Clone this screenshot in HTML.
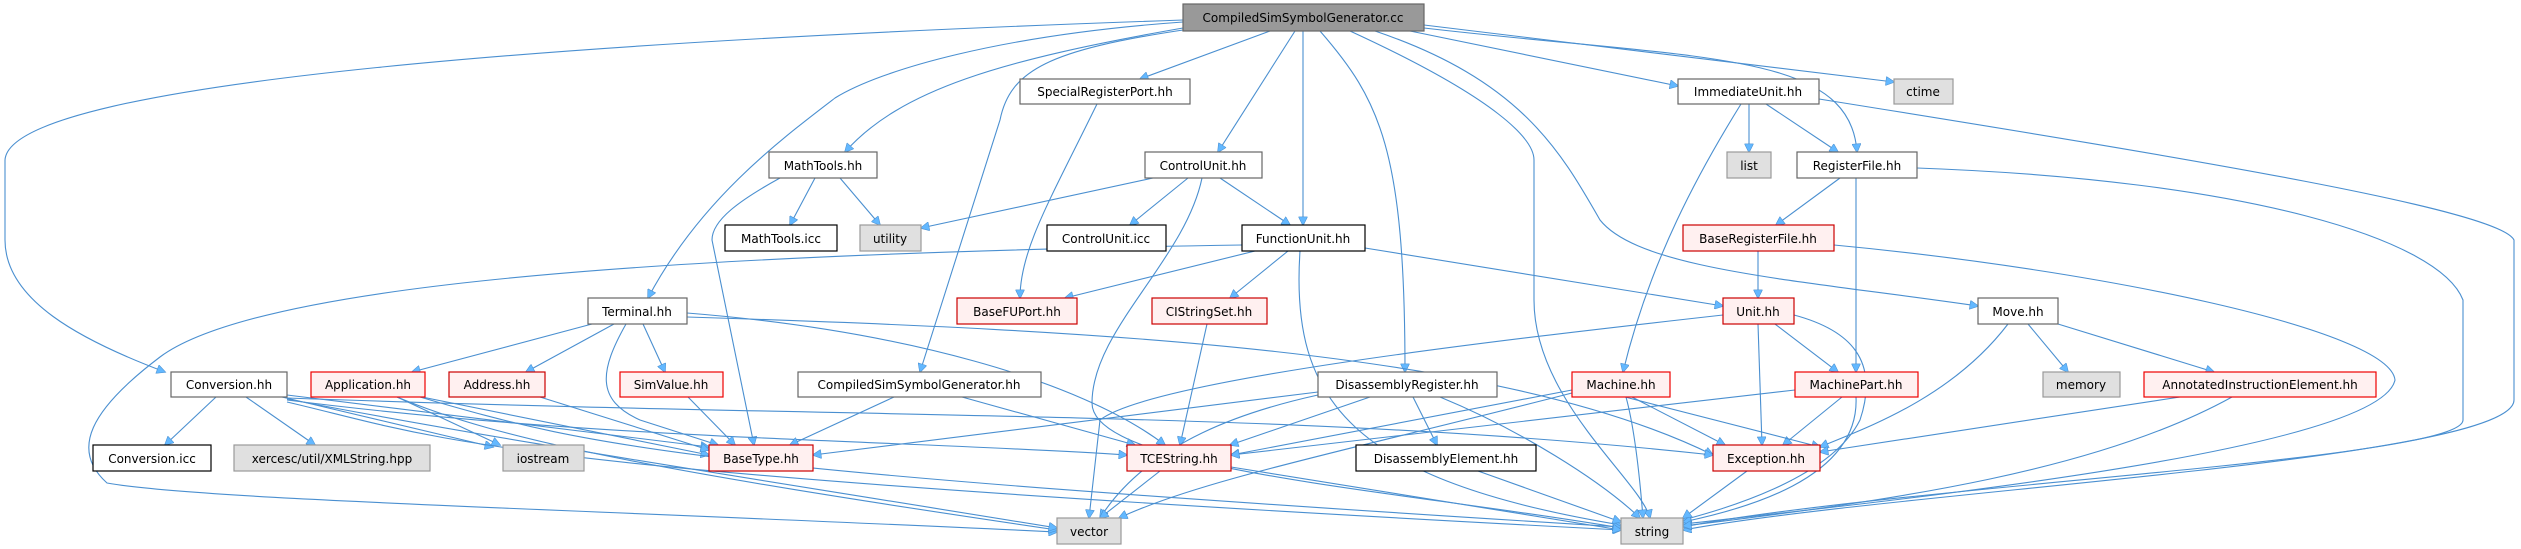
<!DOCTYPE html>
<html><head><meta charset="utf-8"><style>
html,body{margin:0;padding:0;background:#fff;}
svg{display:block;}
text{font-family:"DejaVu Sans","Liberation Sans",sans-serif;font-size:12px;fill:#000;}
.e{fill:none;stroke:#4a8fd0;stroke-width:1.1;}
</style></head><body>
<svg width="2521" height="549" viewBox="0 0 2521 549" xmlns="http://www.w3.org/2000/svg">
<defs><marker id="a" viewBox="0 0 10 10" refX="9" refY="5" markerWidth="11" markerHeight="9" markerUnits="userSpaceOnUse" orient="auto"><path d="M0,0 L10,5 L0,10 z" fill="#63b8ff" stroke="#4a8fd0" stroke-width="0.6"/></marker></defs>
<g class="e" marker-end="url(#a)">
<path d="M1183,20 C600,40 10,80 5,160 L5,240 C5,300 80,340 165,372"/>
<path d="M1242,245 C600,255 250,290 160,357 C90,410 70,450 107,483 C200,500 600,510 1057,532"/>
<path d="M1183,28 C1000,60 900,90 845,152"/>
<path d="M1183,22 C1000,35 880,70 835,98 C780,140 700,200 648,298"/>
<path d="M1270,31 L1140,79"/>
<path d="M1295,31 L1218,152"/>
<path d="M1303,31 L1303,225"/>
<path d="M1183,30 C1050,50 1010,70 1000,120 L920,372"/>
<path d="M1320,31 C1380,100 1405,150 1405,372"/>
<path d="M1350,31 C1500,100 1534,140 1534,160 L1534,300 C1534,400 1640,480 1650,518"/>
<path d="M1375,31 C1520,80 1560,150 1600,220 C1640,270 1800,280 1978,306"/>
<path d="M1410,31 L1678,86"/>
<path d="M1424,28 C1700,60 1850,50 1857,152"/>
<path d="M1424,25 L1894,82"/>
<path d="M1097,104 C1050,200 1020,250 1020,298"/>
<path d="M1153,178 L921,228"/>
<path d="M1188,178 L1130,225"/>
<path d="M1220,178 L1290,225"/>
<path d="M1202,178 C1185,260 1092,330 1092,403 C1092,470 1400,490 1621,528"/>
<path d="M840,178 L880,225"/>
<path d="M815,178 L790,225"/>
<path d="M780,178 C740,200 712,220 712,240 L754,445"/>
<path d="M1255,251 L1065,298"/>
<path d="M1288,251 L1230,298"/>
<path d="M1365,248 L1723,306"/>
<path d="M1300,251 C1290,400 1350,480 1621,525"/>
<path d="M1207,324 L1180,445"/>
<path d="M592,324 L412,372"/>
<path d="M614,324 L526,372"/>
<path d="M643,324 L665,372"/>
<path d="M626,324 C600,370 595,400 640,420 L718,445"/>
<path d="M687,313 C900,330 1080,380 1165,445"/>
<path d="M687,317 C1100,330 1500,350 1713,455"/>
<path d="M397,397 L500,445"/>
<path d="M422,397 L709,455"/>
<path d="M420,397 C600,450 700,470 1621,527"/>
<path d="M397,397 C500,440 650,470 1057,530"/>
<path d="M216,397 L165,445"/>
<path d="M246,397 L315,445"/>
<path d="M282,397 L493,447"/>
<path d="M287,395 L709,447"/>
<path d="M287,399 C500,440 700,470 1057,528"/>
<path d="M287,400 C600,440 900,440 1127,455"/>
<path d="M287,398 C900,420 1300,410 1713,455"/>
<path d="M287,402 C450,440 470,470 1621,530"/>
<path d="M540,397 L709,450"/>
<path d="M688,397 L735,445"/>
<path d="M894,397 L790,445"/>
<path d="M962,397 L1135,445"/>
<path d="M1370,397 L1230,445"/>
<path d="M1318,392 L813,455"/>
<path d="M1413,397 L1437,445"/>
<path d="M1440,397 C1520,430 1600,480 1640,518"/>
<path d="M1318,395 C1250,410 1150,440 1100,518"/>
<path d="M1572,390 L1231,455"/>
<path d="M1632,397 L1725,445"/>
<path d="M1626,397 C1635,430 1640,480 1643,518"/>
<path d="M1572,393 C1350,450 1200,480 1119,518"/>
<path d="M1478,471 L1621,522"/>
<path d="M1160,471 L1100,518"/>
<path d="M1231,467 L1621,530"/>
<path d="M1749,104 L1749,152"/>
<path d="M1766,104 L1838,152"/>
<path d="M1741,104 C1700,170 1650,260 1623,372"/>
<path d="M1819,99 C2200,160 2500,210 2514,240 L2514,400 C2514,460 1900,490 1683,530"/>
<path d="M1840,178 L1776,225"/>
<path d="M1856,178 L1856,372"/>
<path d="M1917,168 C2250,180 2440,240 2463,300 L2463,420 C2463,460 1900,485 1683,527"/>
<path d="M1758,251 L1758,298"/>
<path d="M1834,245 C2100,270 2390,330 2395,380 C2380,450 1900,500 1683,524"/>
<path d="M1775,324 L1838,372"/>
<path d="M1758,324 L1762,445"/>
<path d="M1794,315 C1850,330 1880,360 1860,420 C1830,480 1720,510 1683,520"/>
<path d="M1723,315 C1500,340 1150,380 1100,420 L1089,518"/>
<path d="M1842,397 L1783,445"/>
<path d="M1856,397 C1860,480 1740,510 1683,522"/>
<path d="M1795,390 L1231,455"/>
<path d="M2028,324 L2068,372"/>
<path d="M2058,324 L2214,372"/>
<path d="M2008,324 C1950,400 1860,430 1820,447"/>
<path d="M2180,397 L1820,452"/>
<path d="M2232,397 C2100,470 1900,500 1683,526"/>
<path d="M1747,471 L1683,518"/>
<path d="M1625,397 L1820,447"/>
</g>
<g stroke-width="1.2">
<rect x="1183" y="4" width="241" height="27" fill="#999" stroke="#666"/>
<rect x="1020" y="79" width="170" height="25" fill="#fff" stroke="#666"/>
<rect x="1678" y="79" width="141" height="25" fill="#fff" stroke="#666"/>
<rect x="1894" y="79" width="59" height="25" fill="#e0e0e0" stroke="#999"/>
<rect x="769" y="152" width="108" height="26" fill="#fff" stroke="#666"/>
<rect x="1145" y="152" width="117" height="26" fill="#fff" stroke="#666"/>
<rect x="1727" y="152" width="44" height="26" fill="#e0e0e0" stroke="#999"/>
<rect x="1797" y="152" width="120" height="26" fill="#fff" stroke="#666"/>
<rect x="725" y="225" width="112" height="26" fill="#fff" stroke="#000"/>
<rect x="860" y="225" width="61" height="26" fill="#e0e0e0" stroke="#999"/>
<rect x="1047" y="225" width="119" height="26" fill="#fff" stroke="#000"/>
<rect x="1242" y="225" width="123" height="26" fill="#fff" stroke="#000"/>
<rect x="1683" y="225" width="151" height="26" fill="#fff0f0" stroke="#c00"/>
<rect x="588" y="298" width="99" height="26" fill="#fff" stroke="#666"/>
<rect x="957" y="298" width="120" height="26" fill="#fff0f0" stroke="#c00"/>
<rect x="1152" y="298" width="115" height="26" fill="#fff0f0" stroke="#c00"/>
<rect x="1723" y="298" width="71" height="26" fill="#fff0f0" stroke="#c00"/>
<rect x="1978" y="298" width="80" height="26" fill="#fff" stroke="#666"/>
<rect x="171" y="372" width="116" height="25" fill="#fff" stroke="#666"/>
<rect x="311" y="372" width="114" height="25" fill="#fff0f0" stroke="#e00"/>
<rect x="449" y="372" width="96" height="25" fill="#fff0f0" stroke="#c00"/>
<rect x="620" y="372" width="103" height="25" fill="#fff0f0" stroke="#e00"/>
<rect x="798" y="372" width="243" height="25" fill="#fff" stroke="#666"/>
<rect x="1318" y="372" width="179" height="25" fill="#fff" stroke="#666"/>
<rect x="1572" y="372" width="98" height="25" fill="#fff0f0" stroke="#e00"/>
<rect x="1795" y="372" width="123" height="25" fill="#fff0f0" stroke="#e00"/>
<rect x="2043" y="372" width="77" height="25" fill="#e0e0e0" stroke="#999"/>
<rect x="2144" y="372" width="232" height="25" fill="#fff0f0" stroke="#e00"/>
<rect x="93" y="445" width="118" height="26" fill="#fff" stroke="#000"/>
<rect x="234" y="445" width="196" height="26" fill="#e0e0e0" stroke="#999"/>
<rect x="503" y="445" width="81" height="26" fill="#e0e0e0" stroke="#999"/>
<rect x="709" y="445" width="104" height="26" fill="#fff0f0" stroke="#c00"/>
<rect x="1127" y="445" width="104" height="26" fill="#fff0f0" stroke="#c00"/>
<rect x="1356" y="445" width="180" height="26" fill="#fff" stroke="#000"/>
<rect x="1713" y="445" width="107" height="26" fill="#fff0f0" stroke="#c00"/>
<rect x="1057" y="518" width="64" height="26" fill="#e0e0e0" stroke="#999"/>
<rect x="1621" y="518" width="62" height="26" fill="#e0e0e0" stroke="#999"/>
</g>
<g text-anchor="middle">
<text x="1303" y="22">CompiledSimSymbolGenerator.cc</text>
<text x="1105" y="96">SpecialRegisterPort.hh</text>
<text x="1748" y="96">ImmediateUnit.hh</text>
<text x="1923" y="96">ctime</text>
<text x="823" y="170">MathTools.hh</text>
<text x="1203" y="170">ControlUnit.hh</text>
<text x="1749" y="170">list</text>
<text x="1857" y="170">RegisterFile.hh</text>
<text x="781" y="243">MathTools.icc</text>
<text x="890" y="243">utility</text>
<text x="1106" y="243">ControlUnit.icc</text>
<text x="1303" y="243">FunctionUnit.hh</text>
<text x="1758" y="243">BaseRegisterFile.hh</text>
<text x="637" y="316">Terminal.hh</text>
<text x="1017" y="316">BaseFUPort.hh</text>
<text x="1209" y="316">CIStringSet.hh</text>
<text x="1758" y="316">Unit.hh</text>
<text x="2018" y="316">Move.hh</text>
<text x="229" y="389">Conversion.hh</text>
<text x="368" y="389">Application.hh</text>
<text x="497" y="389">Address.hh</text>
<text x="671" y="389">SimValue.hh</text>
<text x="919" y="389">CompiledSimSymbolGenerator.hh</text>
<text x="1407" y="389">DisassemblyRegister.hh</text>
<text x="1621" y="389">Machine.hh</text>
<text x="1856" y="389">MachinePart.hh</text>
<text x="2081" y="389">memory</text>
<text x="2260" y="389">AnnotatedInstructionElement.hh</text>
<text x="152" y="463">Conversion.icc</text>
<text x="332" y="463">xercesc/util/XMLString.hpp</text>
<text x="543" y="463">iostream</text>
<text x="761" y="463">BaseType.hh</text>
<text x="1179" y="463">TCEString.hh</text>
<text x="1446" y="463">DisassemblyElement.hh</text>
<text x="1766" y="463">Exception.hh</text>
<text x="1089" y="536">vector</text>
<text x="1652" y="536">string</text>
</g>
</svg>
</body></html>
